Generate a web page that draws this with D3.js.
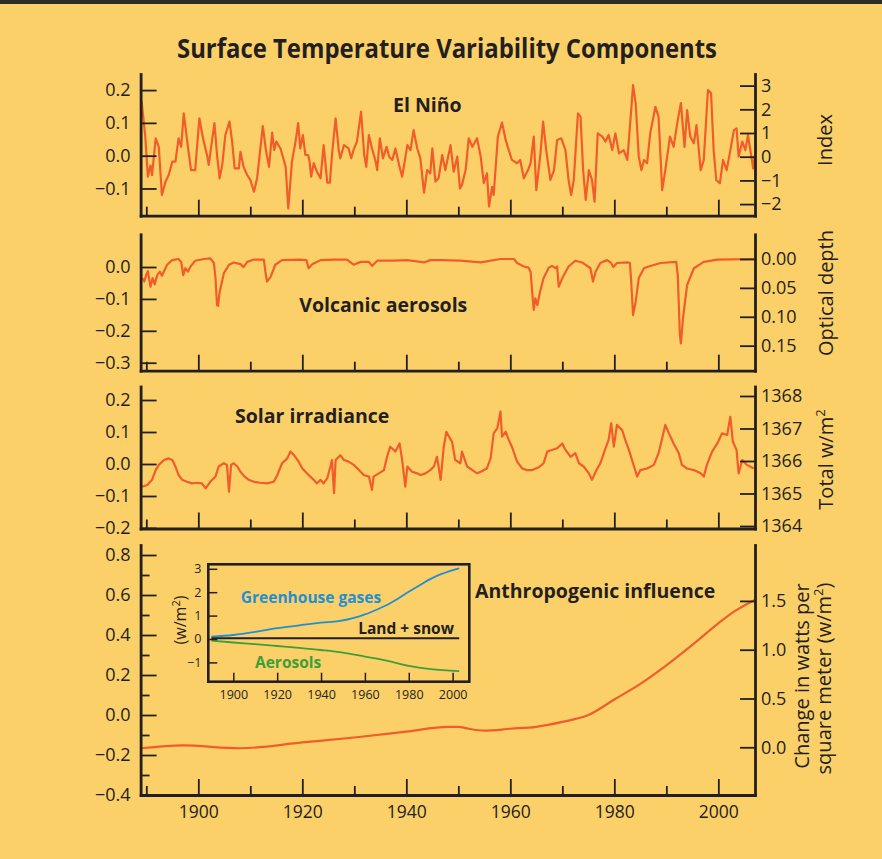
<!DOCTYPE html>
<html lang="en">
<head>
<meta charset="UTF-8">
<title>Surface Temperature Variability Components</title>
<script src="https://cdn.jsdelivr.net/npm/d3@7"></script>
<style>
  body { margin: 0; background: #fcd068; }
  svg { display: block; font-family: "Open Sans", sans-serif; }
  .axis path.domain { stroke: #231f20; stroke-width: 2.8; stroke-linecap: square; }
  .axis .tick line { stroke: #231f20; stroke-width: 1.8; }
  .axis text { fill: #231f20; font-family: "Open Sans", sans-serif; font-size: 18px; }
  .xaxis text { font-size: 17.5px; }
  .inset .axis text { font-size: 12.5px; }
  .inset .axis path.domain { stroke: none; }
  .inset .axis .tick line { stroke-width: 1.5; }
  .series { fill: none; stroke: #f15d2a; stroke-width: 2.2; stroke-linejoin: round; }
  .label { font-weight: bold; fill: #231f20; }
  .ytitle { fill: #231f20; font-size: 20px; }
</style>
</head>
<body>
<svg></svg>
<script>
// x axis ticks
const xTickYears = [1890, 1900, 1910, 1920, 1930, 1940, 1950, 1960, 1970, 1980, 1990, 2000];
const xLabelYears = [1900, 1920, 1940, 1960, 1980, 2000];

// El Niño (temperature units, left axis)
const ninoYear = [1889.1, 1889.8, 1890.3, 1890.8, 1891.1, 1891.8, 1892.4, 1893.0, 1893.7, 1894.3, 1895.0, 1895.6, 1896.2, 1896.7, 1897.2, 1898.0, 1898.6, 1899.4,
  1900.2, 1900.9, 1901.7, 1902.0, 1903.1, 1903.6, 1904.1, 1904.6, 1905.2, 1906.0, 1906.5, 1907.0, 1907.8, 1908.1, 1908.7, 1909.4,
  1910.0, 1910.7, 1911.3, 1912.4, 1913.0, 1913.6, 1914.2, 1914.6, 1915.0, 1915.8, 1916.8, 1917.3, 1918.0, 1918.7, 1919.2, 1919.6,
  1920.1, 1920.6, 1921.1, 1921.4, 1921.7, 1922.2, 1922.8, 1923.5, 1924.1, 1924.8, 1925.3, 1925.7, 1926.4, 1927.0, 1927.3, 1928.0, 1928.9, 1929.4, 1929.9,
  1930.5, 1931.3, 1931.9, 1932.3, 1932.8, 1933.4, 1934.1, 1934.4, 1934.9, 1935.5, 1936.2, 1936.7, 1937.3, 1937.9, 1938.6, 1939.2,
  1940.2, 1940.8, 1941.4, 1942.1, 1942.7, 1943.4, 1944.0, 1944.6, 1945.0, 1945.6, 1946.2, 1946.9, 1947.5, 1948.5, 1949.1, 1949.8,
  1950.3, 1950.7, 1951.4, 1952.0, 1952.7, 1953.6, 1954.3, 1954.9, 1955.5, 1955.9, 1956.5, 1956.8, 1957.6, 1958.4, 1959.1, 1959.7,
  1960.3, 1961.3, 1961.9, 1962.6, 1963.4, 1963.9, 1964.5, 1965.0, 1965.8, 1966.3, 1966.9, 1967.7, 1968.4, 1969.0, 1969.8,
  1970.6, 1971.2, 1971.7, 1972.2, 1973.0, 1973.5, 1974.0, 1974.5, 1975.1, 1975.7, 1976.2, 1976.8, 1977.7, 1978.3, 1978.9, 1979.6,
  1980.2, 1980.9, 1981.8, 1982.5, 1983.1, 1983.6, 1984.1, 1984.7, 1985.2, 1985.7, 1986.3, 1986.9, 1987.9, 1988.5, 1989.2, 1989.8,
  1990.7, 1991.4, 1992.2, 1992.8, 1993.5, 1994.0, 1994.6, 1995.3, 1995.8, 1996.6, 1997.2, 1998.0, 1998.6, 1999.1, 1999.6,
  2000.3, 2000.9, 2001.6, 2002.2, 2003.0, 2003.5, 2003.9, 2004.6, 2005.2, 2005.7, 2006.2, 2006.7, 2007.0];
const ninoVal = [0.165, 0.058, -0.064, -0.03, -0.059, 0.053, 0.027, -0.12, -0.079, -0.059, -0.018, -0.018, 0.053, 0.027, 0.129, 0.027, -0.044, -0.044,
  0.114, 0.053, 0.0, -0.028, 0.099, 0.002, -0.069, -0.028, 0.063, 0.104, 0.043, -0.039, -0.039, 0.012, -0.034, -0.059,
  -0.074, -0.11, -0.069, 0.09, 0.017, -0.034, 0.07, 0.017, 0.043, 0.022, -0.034, -0.161, -0.018, 0.043, 0.099, 0.022,
  0.063, 0.002, 0.002, -0.018, -0.064, -0.023, -0.049, -0.069, 0.032, -0.082, -0.082, 0.002, 0.114, 0.017, -0.008, 0.032, 0.022, -0.008, 0.02,
  0.043, 0.134, 0.002, -0.034, 0.063, 0.022, -0.018, -0.044, 0.053, -0.008, 0.027, -0.003, -0.013, 0.022, -0.028, -0.064,
  0.032, 0.017, 0.078, 0.022, -0.008, -0.113, -0.044, -0.054, 0.022, -0.079, -0.069, 0.002, -0.044, 0.032, -0.049, -0.003,
  -0.1, -0.089, -0.044, 0.053, 0.027, 0.053, -0.003, -0.084, -0.054, -0.155, -0.095, -0.12, 0.058, 0.101, 0.048, 0.017,
  -0.013, -0.023, -0.013, -0.069, -0.044, -0.023, 0.058, -0.105, 0.007, 0.104, 0.017, -0.074, -0.044, 0.048, 0.053,
  0.017, -0.074, -0.12, -0.074, 0.129, 0.119, -0.044, -0.135, -0.044, -0.074, -0.14, 0.068, 0.058, 0.043, 0.063, 0.017,
  0.068, 0.007, 0.017, -0.013, 0.109, 0.215, 0.16, -0.003, -0.044, -0.013, -0.023, 0.068, 0.149, 0.119, -0.105, -0.044,
  0.058, 0.027, 0.109, 0.16, 0.027, 0.139, 0.058, 0.038, 0.093, -0.044, -0.013, 0.2, 0.19, 0.017, -0.074,
  -0.084, -0.013, -0.044, 0.007, 0.078, 0.083, -0.003, 0.043, 0.017, 0.063, 0.012, -0.039, 0.0];
const ninoLeftTicks = [-0.1, 0, 0.1, 0.2];
const ninoIndexTicks = [-2, -1, 0, 1, 2, 3];

// Volcanic aerosols (optical depth, right axis)
const volcYear = [1889.2, 1889.6, 1890.0, 1890.3, 1890.8, 1891.2, 1891.6, 1892.1, 1892.6, 1893.0, 1894.0, 1895.0, 1896.2, 1896.7, 1897.1, 1897.5, 1898.0, 1898.5, 1899.4,
  1901.1, 1902.3, 1903.0, 1903.3, 1903.6, 1903.8, 1904.1, 1904.9, 1905.9, 1906.8, 1908.1, 1908.7, 1909.4, 1910.7, 1912.6, 1912.9, 1913.2, 1913.9, 1914.8,
  1916.1, 1919.6, 1920.8, 1921.2, 1921.9, 1923.5, 1926.1, 1928.6, 1929.9, 1931.2, 1932.8, 1933.4, 1934.4, 1937.6, 1940.2, 1943.4, 1944.6, 1946.6,
  1950.4, 1954.3, 1958.1, 1960.7, 1961.3, 1962.6, 1963.5, 1963.9, 1964.2, 1964.5, 1964.8, 1965.2, 1965.7, 1966.4, 1967.4, 1968.0, 1968.7, 1969.0, 1969.3,
  1970.0, 1971.2, 1972.5, 1973.8, 1975.4, 1975.9, 1976.4, 1977.3, 1978.6, 1979.3, 1979.8, 1980.5, 1982.5, 1983.0, 1983.2, 1983.6, 1984.1, 1984.7,
  1985.7, 1986.6, 1988.9, 1991.9, 1992.2, 1992.6, 1992.8, 1993.2, 1994.0, 1995.3, 1997.2, 1999.8, 2007.0];
const volcDepth = [0.033, 0.039, 0.027, 0.021, 0.048, 0.033, 0.044, 0.028, 0.022, 0.029, 0.010, 0.002, 0.0, 0.005, 0.028, 0.016, 0.022, 0.013, 0.003,
  0.0, -0.001, 0.007, 0.033, 0.080, 0.081, 0.057, 0.025, 0.010, 0.006, 0.009, 0.014, 0.005, 0.001, 0.001, 0.022, 0.039, 0.031, 0.010,
  0.002, 0.001, 0.002, 0.016, 0.009, 0.002, 0.001, 0.001, 0.010, 0.005, 0.005, 0.012, 0.003, 0.003, 0.002, 0.006, 0.002, 0.002,
  0.003, 0.006, 0.0, 0.0, 0.007, 0.013, 0.015, 0.022, 0.057, 0.088, 0.068, 0.080, 0.057, 0.033, 0.015, 0.012, 0.016, 0.013, 0.048,
  0.033, 0.013, 0.003, 0.006, 0.016, 0.039, 0.022, 0.007, 0.002, 0.006, 0.014, 0.007, 0.006, 0.007, 0.033, 0.097, 0.074, 0.033,
  0.016, 0.013, 0.007, 0.005, 0.028, 0.131, 0.146, 0.103, 0.045, 0.016, 0.005, 0.001, 0.0];
const volcLeftTicks = [-0.3, -0.2, -0.1, 0];
const volcDepthTicks = [0, 0.05, 0.1, 0.15];

// Solar irradiance (total W/m2, right axis)
const solarYear = [1889.2, 1890.2, 1891.1, 1891.8, 1892.4, 1893.4, 1894.3, 1895.0, 1895.6, 1896.2, 1896.9, 1897.8, 1898.8, 1899.8,
  1900.7, 1901.4, 1902.3, 1903.3, 1903.9, 1904.9, 1905.5, 1905.9, 1906.3, 1906.8, 1907.5, 1908.1, 1908.9, 1909.7,
  1910.7, 1911.9, 1913.2, 1914.5, 1915.2, 1916.1, 1917.1, 1917.7, 1918.4, 1919.3,
  1920.0, 1920.6, 1921.2, 1922.2, 1922.8, 1923.5, 1924.1, 1924.8, 1925.4, 1925.7, 1926.1, 1926.4, 1927.3, 1928.0, 1928.9, 1929.9,
  1930.9, 1931.8, 1932.8, 1933.4, 1933.7, 1934.7, 1935.7, 1936.3, 1936.9, 1937.9, 1938.7, 1939.2, 1939.8,
  1940.2, 1941.1, 1942.1, 1942.7, 1943.7, 1944.6, 1945.3, 1945.9, 1946.6, 1947.2, 1947.7, 1948.2, 1948.8, 1949.4,
  1950.4, 1950.7, 1951.7, 1952.7, 1953.6, 1954.3, 1955.5, 1956.2, 1956.8, 1957.5, 1958.1, 1958.4, 1959.1, 1959.7,
  1960.3, 1961.3, 1962.3, 1963.2, 1964.2, 1965.5, 1966.4, 1967.1, 1968.0, 1969.0,
  1970.0, 1970.6, 1971.6, 1972.5, 1973.2, 1974.1, 1975.1, 1975.7, 1976.4, 1977.3, 1978.3, 1978.9, 1979.4, 1979.9,
  1980.5, 1981.5, 1982.1, 1982.8, 1983.4, 1984.4, 1985.0, 1986.3, 1987.6, 1988.5, 1989.2, 1989.8,
  1990.5, 1991.4, 1992.4, 1993.0, 1994.0, 1995.3, 1996.6, 1997.2, 1997.8, 1998.8, 1999.8,
  2000.7, 2001.7, 2002.3, 2002.8, 2003.5, 2003.9, 2004.6, 2005.5, 2006.8];
const solarTsi = [1365.21, 1365.26, 1365.42, 1365.72, 1365.88, 1366.03, 1366.08, 1366.03, 1365.83, 1365.57, 1365.42, 1365.36, 1365.31, 1365.33,
  1365.31, 1365.16, 1365.36, 1365.52, 1365.83, 1365.93, 1365.88, 1365.06, 1365.88, 1365.93, 1365.83, 1365.67, 1365.52, 1365.42,
  1365.36, 1365.33, 1365.31, 1365.36, 1365.57, 1365.93, 1366.08, 1366.29, 1366.18, 1365.98,
  1365.77, 1365.67, 1365.57, 1365.42, 1365.31, 1365.42, 1365.31, 1365.47, 1365.83, 1366.03, 1365.01, 1366.03, 1366.18, 1366.03, 1365.98, 1365.88,
  1365.72, 1365.57, 1365.52, 1365.11, 1365.52, 1365.62, 1365.72, 1366.13, 1366.44, 1366.29, 1366.54, 1366.03, 1365.21,
  1365.83, 1365.67, 1365.62, 1365.57, 1365.62, 1365.72, 1365.83, 1366.13, 1365.42, 1366.44, 1366.90, 1366.75, 1366.59, 1366.03,
  1365.93, 1366.29, 1365.83, 1365.72, 1365.62, 1365.67, 1365.77, 1366.08, 1366.85, 1367.01, 1367.52, 1366.75, 1366.90, 1366.65,
  1366.44, 1365.98, 1365.77, 1365.72, 1365.72, 1365.81, 1365.93, 1366.29, 1366.34, 1366.39,
  1366.54, 1366.34, 1366.13, 1366.24, 1365.93, 1365.83, 1365.62, 1365.42, 1365.67, 1365.93, 1366.39, 1366.65, 1367.16, 1366.44,
  1367.11, 1366.95, 1366.65, 1366.34, 1366.03, 1365.52, 1365.72, 1365.77, 1365.88, 1366.24, 1366.70, 1367.11,
  1366.85, 1366.54, 1366.24, 1365.88, 1365.77, 1365.72, 1365.62, 1365.52, 1365.88, 1366.29, 1366.54,
  1366.85, 1366.80, 1367.36, 1366.59, 1366.34, 1365.62, 1366.03, 1365.88, 1365.77];
const solarLeftTicks = [-0.2, -0.1, 0, 0.1, 0.2];
const solarTsiTicks = [1364, 1365, 1366, 1367, 1368];

// Anthropogenic influence (change in W/m2, right axis)
const anthroYear = [1889, 1897, 1908, 1920, 1930, 1940, 1948, 1950, 1952, 1955, 1960, 1965, 1970, 1975, 1980, 1985, 1990, 1995, 2000, 2003, 2007];
const anthroVal = [-0.01, 0.02, -0.01, 0.05, 0.10, 0.16, 0.21, 0.21, 0.19, 0.17, 0.19, 0.21, 0.26, 0.33, 0.49, 0.65, 0.84, 1.05, 1.27, 1.39, 1.51];
const anthroLeftTicks = [-0.4, -0.2, 0, 0.2, 0.4, 0.6, 0.8];
const anthroLeftMinor = [-0.3, -0.1, 0.1, 0.3, 0.5, 0.7];
const anthroRightTicks = [0, 0.5, 1, 1.5];

// inset: forcing components (w/m2)
const ghgYear = [1890, 1900, 1910, 1920, 1930, 1940, 1948, 1955, 1960, 1965, 1970, 1975, 1980, 1985, 1990, 1995, 2003];
const ghgVal = [0.1, 0.17, 0.3, 0.46, 0.58, 0.7, 0.76, 0.9, 1.05, 1.24, 1.45, 1.72, 2.02, 2.3, 2.57, 2.78, 3.02];
const aeroYear = [1890, 1900, 1910, 1920, 1930, 1940, 1950, 1960, 1970, 1980, 1990, 2003];
const aeroVal = [-0.07, -0.15, -0.22, -0.30, -0.38, -0.47, -0.58, -0.75, -0.92, -1.15, -1.29, -1.37];
const landYear = [1890, 2003];
const landVal = [0.03, 0.03];
const insetXTicks = [1900, 1920, 1940, 1960, 1980, 2000];
const insetYTicks = [-1, 0, 1, 2, 3];

const ink = '#231f20';
const svg = d3.select('svg').attr('width', 882).attr('height', 859);

svg.append('rect').attr('width', 882).attr('height', 859).attr('fill', '#fcd068');
svg.append('rect').attr('width', 882).attr('height', 4).attr('fill', '#2e2c28');

svg.append('text')
    .attr('x', 447).attr('y', 58)
    .attr('text-anchor', 'middle')
    .attr('class', 'label')
    .attr('font-size', 26.5)
    .attr('textLength', 540)
    .attr('lengthAdjust', 'spacingAndGlyphs')
    .text('Surface Temperature Variability Components');

const x = d3.scaleLinear().domain([1888.9, 2007.05]).range([140.6, 755]);

function drawPanel(p) {
    const g = svg.append('g');
    const yL = d3.scaleLinear().domain(p.leftDomain).range([p.bottom, p.top]);
    const yR = d3.scaleLinear().domain(p.rightDomain).range([p.bottom, p.top]);
    const y = p.onRight ? yR : yL;

    g.append('path')
        .datum(d3.zip(p.years, p.values))
        .attr('class', 'series')
        .attr('d', d3.line().x(d => x(d[0])).y(d => y(d[1])).curve(p.curve || d3.curveLinear));

    const gx = g.append('g')
        .attr('class', 'axis xaxis')
        .attr('transform', `translate(0,${p.bottom})`)
        .call(d3.axisBottom(x)
            .tickValues(xTickYears)
            .tickSizeInner(-16)
            .tickSizeOuter(0)
            .tickPadding(11)
            .tickFormat(d => p.xLabels && xLabelYears.includes(d) ? d : ''));
    gx.selectAll('.tick line').attr('y2', d => xLabelYears.includes(d) ? -16 : -9);

    const minor = p.leftMinor || [];
    const gl = g.append('g')
        .attr('class', 'axis')
        .attr('transform', 'translate(140.6,0)')
        .call(d3.axisLeft(yL)
            .tickValues(p.leftTicks.concat(minor))
            .tickSizeInner(-16)
            .tickSizeOuter(0)
            .tickPadding(10)
            .tickFormat(d => minor.includes(d) ? '' : d3.format('.1f')(d)));
    gl.selectAll('.tick line').attr('x2', d => minor.includes(d) ? 9 : 16);

    g.append('g')
        .attr('class', 'axis')
        .attr('transform', 'translate(755,0)')
        .call(d3.axisRight(yR)
            .tickValues(p.rightTicks)
            .tickSizeInner(-15)
            .tickSizeOuter(0)
            .tickPadding(6)
            .tickFormat(d3.format(p.rightFormat)));

    g.append('text')
        .attr('class', 'label')
        .attr('x', p.labelX).attr('y', p.labelY)
        .attr('font-size', 19.5)
        .text(p.label);
}

drawPanel({
    top: 74, bottom: 215.7,
    leftDomain: [-0.183, 0.249], rightDomain: [-2.49, 3.49],
    leftTicks: ninoLeftTicks, rightTicks: ninoIndexTicks, rightFormat: 'd',
    years: ninoYear, values: ninoVal, onRight: false,
    label: 'El Niño', labelX: 393, labelY: 111.7
});
drawPanel({
    top: 234.3, bottom: 370.7,
    leftDomain: [-0.325, 0.1025], rightDomain: [0.1933, -0.0427],
    leftTicks: volcLeftTicks, rightTicks: volcDepthTicks, rightFormat: '.2f',
    years: volcYear, values: volcDepth, onRight: true,
    label: 'Volcanic aerosols', labelX: 299.3, labelY: 312.3
});
drawPanel({
    top: 386.5, bottom: 528.5,
    leftDomain: [-0.2016, 0.2422], rightDomain: [1363.923, 1368.292],
    leftTicks: solarLeftTicks, rightTicks: solarTsiTicks, rightFormat: 'd',
    years: solarYear, values: solarTsi, onRight: true,
    label: 'Solar irradiance', labelX: 235, labelY: 423.3
});
drawPanel({
    top: 545, bottom: 795,
    leftDomain: [-0.4, 0.85], rightDomain: [-0.489, 2.073],
    leftTicks: anthroLeftTicks, leftMinor: anthroLeftMinor, rightTicks: anthroRightTicks, rightFormat: '.1f',
    years: anthroYear, values: anthroVal, onRight: true, curve: d3.curveMonotoneX, xLabels: true,
    label: 'Anthropogenic influence', labelX: 475, labelY: 598.3
});

// right-hand axis titles
function yTitle(cx, cy, parts) {
    const t = svg.append('text')
        .attr('class', 'ytitle')
        .attr('text-anchor', 'middle')
        .attr('transform', `translate(${cx},${cy}) rotate(-90)`);
    parts.forEach(([s, sup]) => {
        t.append('tspan')
            .attr('dy', sup === 1 ? -8 : sup === -1 ? 8 : 0)
            .attr('font-size', sup === 1 ? 13 : null)
            .text(s);
    });
}
yTitle(832, 140, [['Index', 0]]);
yTitle(833, 293, [['Optical depth', 0]]);
yTitle(833, 459.5, [['Total w/m', 0], ['2', 1]]);
yTitle(809, 676, [['Change in watts per', 0]]);
yTitle(831, 678.5, [['square meter (w/m', 0], ['2', 1], [')', -1]]);

// inset
const inset = svg.append('g').attr('class', 'inset');
const ix = d3.scaleLinear().domain([1888.6, 2007.6]).range([208.3, 469.3]);
const iy = d3.scaleLinear().domain([-1.825, 3.192]).range([681.7, 564.3]);

const iline = d3.line().x(d => ix(d[0])).y(d => iy(d[1])).curve(d3.curveMonotoneX);
inset.append('path').datum(d3.zip(ghgYear, ghgVal))
    .attr('fill', 'none').attr('stroke', '#1f8fd4').attr('stroke-width', 1.8).attr('d', iline);
inset.append('path').datum(d3.zip(aeroYear, aeroVal))
    .attr('fill', 'none').attr('stroke', '#3d9e3a').attr('stroke-width', 1.8).attr('d', iline);
inset.append('path').datum(d3.zip(landYear, landVal))
    .attr('fill', 'none').attr('stroke', ink).attr('stroke-width', 2).attr('d', iline);

inset.append('g')
    .attr('class', 'axis')
    .attr('transform', 'translate(0,681.7)')
    .call(d3.axisBottom(ix).tickValues(insetXTicks).tickSizeInner(-9).tickSizeOuter(0).tickPadding(8).tickFormat(d3.format('d')));
inset.append('g')
    .attr('class', 'axis')
    .attr('transform', 'translate(208.3,0)')
    .call(d3.axisLeft(iy).tickValues(insetYTicks).tickSizeInner(-9).tickSizeOuter(0).tickPadding(7).tickFormat(d3.format('d')));

inset.append('rect')
    .attr('x', 208.3).attr('y', 564.3)
    .attr('width', 261).attr('height', 117.4)
    .attr('fill', 'none').attr('stroke', ink).attr('stroke-width', 2.6);

inset.append('text').attr('class', 'label').attr('x', 311).attr('y', 603.3)
    .attr('text-anchor', 'middle').attr('font-size', 15.5).style('fill', '#1f8fd4')
    .text('Greenhouse gases');
inset.append('text').attr('class', 'label').attr('x', 454).attr('y', 634.3)
    .attr('text-anchor', 'end').attr('font-size', 15.5)
    .text('Land + snow');
inset.append('text').attr('class', 'label').attr('x', 255).attr('y', 668.3)
    .attr('font-size', 15.5).style('fill', '#3d9e3a')
    .text('Aerosols');

const it = inset.append('text')
    .attr('text-anchor', 'middle')
    .attr('fill', ink)
    .attr('font-size', 16)
    .attr('transform', 'translate(186,620) rotate(-90)');
it.append('tspan').text('(w/m');
it.append('tspan').attr('dy', -6).attr('font-size', 11).text('2');
it.append('tspan').attr('dy', 6).text(')');
</script>
</body>
</html>
